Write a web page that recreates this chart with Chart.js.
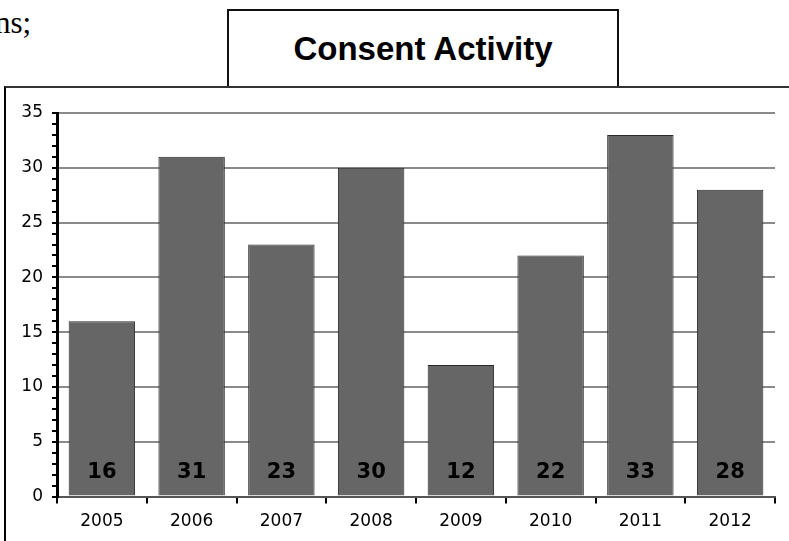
<!DOCTYPE html>
<html>
<head>
<meta charset="utf-8">
<script src="https://cdn.jsdelivr.net/npm/chart.js@4/dist/chart.umd.min.js"></script>
<style>
  html, body { margin: 0; padding: 0; background: #fff; }
  #wrap { position: relative; width: 789px; height: 541px; overflow: hidden; }
  #c { position: absolute; left: 0; top: 0; }
  #frame { position: absolute; left: 4px; top: 86px; width: 800px; height: 500px; border-left: 2px solid #000; border-top: 2px solid #333; z-index: 2; }
  #titlebox { position: absolute; left: 227px; top: 9px; width: 388px; height: 77px; border: 2px solid #111; border-bottom: none; background: #fff;
    font-family: "Liberation Sans", Arial, sans-serif; font-weight: bold; font-size: 33px; color: #000; text-align: center; line-height: 76px; z-index: 1; }
  #prev { position: absolute; left: -5px; top: 5px; font-family: "Liberation Serif", "Times New Roman", serif; font-size: 31px; color: #000; }
</style>
</head>
<body>
<div id="wrap">
  <div id="prev">ns;</div>
  <div id="titlebox">Consent Activity</div>
  <div id="frame"></div>
  <canvas id="c" width="789" height="541"></canvas>
</div>
<script>
const categories = ["2005", "2006", "2007", "2008", "2009", "2010", "2011", "2012"];
const consents = [16, 31, 23, 30, 12, 22, 33, 28];
const yMin = 0, yMax = 35, yMajorStep = 5, yMinorStep = 1;

const barLabels = {
  id: 'barLabels',
  afterDatasetsDraw(chart) {
    const ctx = chart.ctx;
    const meta = chart.getDatasetMeta(0);
    const yScale = chart.scales.y;
    ctx.save();
    ctx.font = 'bold 21px "DejaVu Sans", sans-serif';
    ctx.fillStyle = '#000';
    ctx.textAlign = 'center';
    ctx.textBaseline = 'middle';
    meta.data.forEach((bar, i) => {
      ctx.fillText(String(consents[i]), bar.x, yScale.getPixelForValue(2.2));
    });
    ctx.restore();
  }
};

new Chart(document.getElementById('c'), {
  type: 'bar',
  data: {
    labels: categories,
    datasets: [{
      data: consents,
      backgroundColor: '#666666',
      borderColor: '#2a2a2a',
      borderWidth: 1,
      barPercentage: 0.74,
      categoryPercentage: 1.0
    }]
  },
  options: {
    responsive: false,
    animation: false,
    layout: { padding: { left: 0, right: 14, top: 113, bottom: 1 } },
    plugins: { legend: { display: false }, title: { display: false }, tooltip: { enabled: false } },
    scales: {
      x: {
        offset: true,
        grid: { offset: true, drawOnChartArea: false, tickLength: 7, tickColor: '#000', lineWidth: 2 },
        border: { color: '#555', width: 2 },
        ticks: { color: '#000', font: { family: '"DejaVu Sans", sans-serif', size: 17 }, padding: 8 }
      },
      y: {
        min: yMin, max: yMax,
        afterFit(scale) { scale.width = 57; },
        grid: {
          color: (c) => (c.tick && c.tick.value % yMajorStep === 0 && c.tick.value !== 0) ? '#8a8a8a' : 'rgba(0,0,0,0)',
          lineWidth: 2,
          tickLength: 5,
          tickColor: '#000',
          drawTicks: true
        },
        border: { color: '#000', width: 3 },
        ticks: {
          stepSize: yMinorStep,
          autoSkip: false,
          color: '#000',
          padding: 9,
          font: { family: '"DejaVu Sans", sans-serif', size: 17 },
          callback: (v) => (v % yMajorStep === 0 ? String(v) : '')
        }
      }
    }
  },
  plugins: [barLabels]
});
</script>
</body>
</html>
